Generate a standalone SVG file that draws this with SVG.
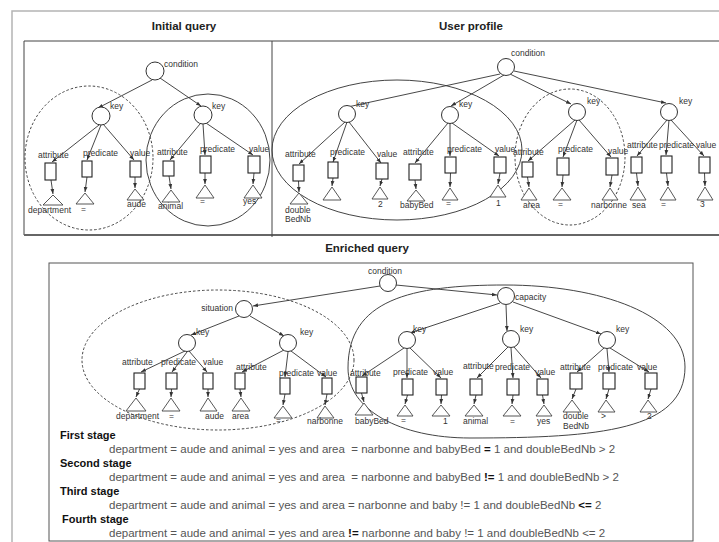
<svg xmlns="http://www.w3.org/2000/svg" width="719" height="542" viewBox="0 0 719 542">
<style>
text{font-family:"Liberation Sans",Arial,sans-serif}
.frame{fill:none;stroke:#b4b4b4;stroke-width:1.5}
.box{fill:none;stroke:#444;stroke-width:1}
.nd{fill:#fff;stroke:#333;stroke-width:1}
.lf{fill:#fff;stroke:#222;stroke-width:1.1}
.tr{fill:#fff;stroke:#444;stroke-width:0.9}
.ell{fill:none;stroke:#444;stroke-width:1}
.dsh{stroke-dasharray:2.5 2}
.t{font-size:8.5px;fill:#333}
.h{font-size:11.5px;font-weight:bold;fill:#222;text-anchor:middle}
.st{font-size:11px;font-weight:bold;fill:#111}
.s{font-size:11.5px;fill:#555;white-space:pre}
.b{font-weight:bold;fill:#111}
#connectors line{stroke:#333;stroke-width:0.9;marker-end:url(#arr)}
</style>
<defs>
<marker id="arr" viewBox="0 0 8 8" refX="8" refY="4" markerWidth="5" markerHeight="5" markerUnits="userSpaceOnUse" orient="auto"><path d="M0,1 L8,4 L0,7 z" fill="#333"/></marker>
</defs>
<rect width="719" height="542" fill="#fff"/>
<rect class="frame" x="12" y="11" width="720" height="545"/>
<path class="box" d="M24,235 V41 H725"/>
<line x1="24" y1="235" x2="719" y2="235" stroke="#666" stroke-width="2"/>
<line x1="272" y1="41" x2="272" y2="237" stroke="#444" stroke-width="1"/>
<rect x="49" y="263" width="644" height="278" fill="none" stroke="#555" stroke-width="1"/>

<text class="h" x="184" y="30">Initial query</text>
<text class="h" x="471" y="30">User profile</text>
<text class="h" x="367" y="252">Enriched query</text>

<g id="groupings">
<ellipse class="ell dsh" cx="89" cy="158" rx="64" ry="72"/>
<ellipse class="ell" cx="208" cy="160" rx="62" ry="66"/>
<ellipse class="ell" cx="397" cy="150" rx="125" ry="70"/>
<ellipse class="ell dsh" cx="570" cy="157" rx="55" ry="68"/>
<ellipse class="ell dsh" cx="218" cy="360" rx="136" ry="70"/>
<path class="ell" d="M348,368 C348,300 410,285 505,285 C600,285 685,315 685,367 C685,430 600,438 470,438 C400,438 348,410 348,368 Z"/>
</g>

<g id="connectors">
<line x1="152" y1="80" x2="98" y2="108"/>
<line x1="160" y1="78" x2="201" y2="106"/>
<line x1="99" y1="125" x2="52" y2="162"/>
<line x1="101" y1="125" x2="87" y2="160"/>
<line x1="103" y1="124" x2="134" y2="160"/>
<line x1="200" y1="124" x2="170" y2="160"/>
<line x1="203" y1="124" x2="205" y2="155"/>
<line x1="206" y1="123" x2="253" y2="155"/>
<line x1="51" y1="180" x2="53" y2="194"/>
<line x1="87" y1="177" x2="85" y2="192"/>
<line x1="135" y1="177" x2="135" y2="188"/>
<line x1="169" y1="176" x2="171" y2="189"/>
<line x1="205" y1="173" x2="205" y2="184"/>
<line x1="254" y1="173" x2="253" y2="184"/>

<line x1="500" y1="74" x2="343" y2="108"/>
<line x1="504" y1="75" x2="451" y2="106"/>
<line x1="510" y1="74" x2="571" y2="104"/>
<line x1="514" y1="71" x2="666" y2="103"/>
<line x1="345" y1="122" x2="299" y2="164"/>
<line x1="347" y1="122" x2="333" y2="162"/>
<line x1="349" y1="122" x2="381" y2="163"/>
<line x1="448" y1="123" x2="415" y2="163"/>
<line x1="450" y1="123" x2="450" y2="156"/>
<line x1="452" y1="123" x2="499" y2="156"/>
<line x1="575" y1="120" x2="528" y2="161"/>
<line x1="577" y1="120" x2="563" y2="157"/>
<line x1="579" y1="120" x2="611" y2="157"/>
<line x1="667" y1="120" x2="637" y2="156"/>
<line x1="669" y1="120" x2="666" y2="155"/>
<line x1="671" y1="120" x2="704" y2="156"/>
<line x1="298.5" y1="181" x2="299" y2="192"/>
<line x1="333" y1="178" x2="332" y2="186"/>
<line x1="382" y1="179" x2="380" y2="186"/>
<line x1="415" y1="180" x2="416" y2="189"/>
<line x1="450.5" y1="173" x2="450" y2="187"/>
<line x1="500" y1="173" x2="498" y2="184"/>
<line x1="527.5" y1="177" x2="529" y2="187"/>
<line x1="563" y1="175" x2="562" y2="187"/>
<line x1="612" y1="175" x2="610" y2="187"/>
<line x1="636.5" y1="173" x2="638" y2="186"/>
<line x1="666.5" y1="173" x2="668" y2="186"/>
<line x1="704.5" y1="173" x2="705" y2="186"/>

<line x1="380" y1="286" x2="253" y2="306"/>
<line x1="396" y1="285" x2="497" y2="295"/>
<line x1="239" y1="316" x2="191" y2="335"/>
<line x1="250" y1="316" x2="284" y2="336"/>
<line x1="500" y1="303" x2="410" y2="333"/>
<line x1="506" y1="305" x2="507" y2="331"/>
<line x1="513" y1="302" x2="601" y2="334"/>
<line x1="185" y1="351" x2="141" y2="372"/>
<line x1="187" y1="352" x2="172" y2="372"/>
<line x1="189" y1="351" x2="207" y2="372"/>
<line x1="284" y1="350" x2="242" y2="372"/>
<line x1="288" y1="352" x2="285" y2="377"/>
<line x1="291" y1="351" x2="326" y2="377"/>
<line x1="404" y1="348" x2="362" y2="376"/>
<line x1="407" y1="349" x2="407" y2="378"/>
<line x1="410" y1="348" x2="441" y2="378"/>
<line x1="508" y1="347" x2="477" y2="378"/>
<line x1="511" y1="348" x2="513" y2="378"/>
<line x1="514" y1="347" x2="541" y2="378"/>
<line x1="604" y1="348" x2="577" y2="372"/>
<line x1="607" y1="349" x2="609" y2="372"/>
<line x1="610" y1="348" x2="649" y2="372"/>
<line x1="139.5" y1="389" x2="136" y2="397"/>
<line x1="171.5" y1="389" x2="171" y2="397"/>
<line x1="208" y1="389" x2="208" y2="397"/>
<line x1="240" y1="389" x2="241" y2="397"/>
<line x1="285" y1="394" x2="283" y2="405"/>
<line x1="327" y1="394" x2="325" y2="405"/>
<line x1="361.5" y1="393" x2="364" y2="402"/>
<line x1="407.5" y1="395" x2="405" y2="404"/>
<line x1="441.5" y1="395" x2="441" y2="404"/>
<line x1="476" y1="395" x2="474" y2="404"/>
<line x1="513" y1="395" x2="512" y2="404"/>
<line x1="542.5" y1="395" x2="544" y2="404"/>
<line x1="576" y1="389" x2="572" y2="399"/>
<line x1="609" y1="389" x2="606" y2="399"/>
<line x1="651" y1="389" x2="648" y2="399"/>
</g>

<!-- Initial query -->
<g id="iq-condition"><circle class="nd" cx="155" cy="71" r="9"/><text class="t" x="164" y="67">condition</text></g>
<g id="iq-key1"><circle class="nd" cx="101" cy="116" r="9"/><text class="t" x="110" y="109">key</text></g>
<g id="iq-key2"><circle class="nd" cx="203" cy="115" r="9"/><text class="t" x="212" y="109">key</text></g>
<g id="iq-attr1"><rect class="lf" x="45" y="163" width="11" height="17"/><text class="t" x="38" y="158">attribute</text></g>
<g id="iq-pred1"><rect class="lf" x="82" y="161" width="10" height="16"/><text class="t" x="83" y="156">predicate</text></g>
<g id="iq-val1"><rect class="lf" x="130" y="161" width="11" height="16"/><text class="t" x="130" y="156">value</text></g>
<g id="iq-attr2"><rect class="lf" x="163" y="161" width="11" height="15"/><text class="t" x="157" y="155">attribute</text></g>
<g id="iq-pred2"><rect class="lf" x="200" y="156" width="11" height="17"/><text class="t" x="200" y="152">predicate</text></g>
<g id="iq-val2"><rect class="lf" x="248" y="156" width="12" height="17"/><text class="t" x="249" y="152">value</text></g>
<g id="iq-department"><polygon class="tr" points="53,195 43,205 63,205"/><text class="t" x="28" y="213">department</text></g>
<g id="iq-eq1"><polygon class="tr" points="85,193 76,204 94,204"/><text class="t" x="81" y="212">=</text></g>
<g id="iq-aude"><polygon class="tr" points="135,189 127,200 144,200"/><text class="t" x="127" y="207">aude</text></g>
<g id="iq-animal"><polygon class="tr" points="171,190 162,202 180,202"/><text class="t" x="158" y="209">animal</text></g>
<g id="iq-eq2"><polygon class="tr" points="205,185 196,198 214,198"/><text class="t" x="200" y="204">=</text></g>
<g id="iq-yes"><polygon class="tr" points="253,185 244,198 262,198"/><text class="t" x="243" y="204">yes</text></g>

<!-- User profile -->
<g id="up-condition"><circle class="nd" cx="506" cy="67" r="8.5"/><text class="t" x="511" y="56">condition</text></g>
<g id="up-key1"><circle class="nd" cx="347" cy="114" r="8.5"/><text class="t" x="356" y="107">key</text></g>
<g id="up-key2"><circle class="nd" cx="450" cy="115" r="8.5"/><text class="t" x="459" y="107">key</text></g>
<g id="up-key3"><circle class="nd" cx="577" cy="112" r="8.5"/><text class="t" x="587" y="104">key</text></g>
<g id="up-key4"><circle class="nd" cx="669" cy="112" r="8.5"/><text class="t" x="679" y="104">key</text></g>
<g id="up-attr1"><rect class="lf" x="293" y="165" width="11" height="16"/><text class="t" x="285" y="157">attribute</text></g>
<g id="up-pred1"><rect class="lf" x="328" y="162" width="10" height="16"/><text class="t" x="330" y="155">predicate</text></g>
<g id="up-val1"><rect class="lf" x="376" y="163" width="12" height="16"/><text class="t" x="377" y="157">value</text></g>
<g id="up-attr2"><rect class="lf" x="409" y="164" width="12" height="16"/><text class="t" x="403" y="155">attribute</text></g>
<g id="up-pred2"><rect class="lf" x="445" y="157" width="11" height="16"/><text class="t" x="447" y="152">predicate</text></g>
<g id="up-val2"><rect class="lf" x="494" y="157" width="12" height="16"/><text class="t" x="495" y="152">value</text></g>
<g id="up-attr3"><rect class="lf" x="522" y="162" width="11" height="15"/><text class="t" x="513" y="155">attribute</text></g>
<g id="up-pred3"><rect class="lf" x="557" y="158" width="12" height="17"/><text class="t" x="558" y="152">predicate</text></g>
<g id="up-val3"><rect class="lf" x="606" y="158" width="12" height="17"/><text class="t" x="608" y="154">value</text></g>
<g id="up-attr4"><rect class="lf" x="631" y="157" width="11" height="16"/><text class="t" x="627" y="148">attribute</text></g>
<g id="up-pred4"><rect class="lf" x="661" y="156" width="11" height="17"/><text class="t" x="659" y="148">predicate</text></g>
<g id="up-val4"><rect class="lf" x="699" y="157" width="11" height="16"/><text class="t" x="696" y="148">value</text></g>
<g id="up-doubleBedNb"><polygon class="tr" points="299,193 290,204 308,204"/><text class="t" x="285" y="213">double</text><text class="t" x="285" y="222">BedNb</text></g>
<g id="up-op1"><polygon class="tr" points="332,187 323,200 341,200"/></g>
<g id="up-2"><polygon class="tr" points="380,187 372,199 388,199"/><text class="t" x="378" y="207">2</text></g>
<g id="up-babyBed"><polygon class="tr" points="416,190 407,201 425,201"/><text class="t" x="400" y="208">babyBed</text></g>
<g id="up-eq2"><polygon class="tr" points="450,188 442,200 458,200"/><text class="t" x="446" y="206">=</text></g>
<g id="up-1"><polygon class="tr" points="498,185 490,197 506,197"/><text class="t" x="496" y="206">1</text></g>
<g id="up-area"><polygon class="tr" points="529,188 521,200 537,200"/><text class="t" x="523" y="208">area</text></g>
<g id="up-eq3"><polygon class="tr" points="562,188 553,200 571,200"/><text class="t" x="558" y="207">=</text></g>
<g id="up-narbonne"><polygon class="tr" points="610,188 602,200 618,200"/><text class="t" x="591" y="208">narbonne</text></g>
<g id="up-sea"><polygon class="tr" points="638,187 630,200 646,200"/><text class="t" x="632" y="208">sea</text></g>
<g id="up-eq4"><polygon class="tr" points="668,187 660,200 676,200"/><text class="t" x="661" y="207">=</text></g>
<g id="up-3"><polygon class="tr" points="705,187 697,200 713,200"/><text class="t" x="700" y="207">3</text></g>

<!-- Enriched query -->
<g id="eq-condition"><circle class="nd" cx="388" cy="283" r="8.5"/><text class="t" x="368" y="274">condition</text></g>
<g id="eq-situation"><circle class="nd" cx="244" cy="309" r="8.5"/><text class="t" x="233" y="311" text-anchor="end">situation</text></g>
<g id="eq-capacity"><circle class="nd" cx="506" cy="296" r="8.5"/><text class="t" x="515" y="300">capacity</text></g>
<g id="eq-keyS1"><circle class="nd" cx="187" cy="343" r="8.5"/><text class="t" x="196" y="335">key</text></g>
<g id="eq-keyS2"><circle class="nd" cx="288" cy="343" r="8.5"/><text class="t" x="300" y="335">key</text></g>
<g id="eq-keyC1"><circle class="nd" cx="407" cy="340" r="8.5"/><text class="t" x="413" y="332">key</text></g>
<g id="eq-keyC2"><circle class="nd" cx="511" cy="339" r="8.5"/><text class="t" x="520" y="332">key</text></g>
<g id="eq-keyC3"><circle class="nd" cx="607" cy="340" r="8.5"/><text class="t" x="616" y="332">key</text></g>
<g id="eq-attr1"><rect class="lf" x="134" y="373" width="11" height="16"/><text class="t" x="122" y="365">attribute</text></g>
<g id="eq-pred1"><rect class="lf" x="166" y="373" width="11" height="16"/><text class="t" x="161" y="365">predicate</text></g>
<g id="eq-val1"><rect class="lf" x="203" y="373" width="10" height="16"/><text class="t" x="203" y="365">value</text></g>
<g id="eq-attr2"><rect class="lf" x="235" y="373" width="10" height="16"/><text class="t" x="236" y="370">attribute</text></g>
<g id="eq-pred2"><rect class="lf" x="280" y="378" width="10" height="16"/><text class="t" x="279" y="376">predicate</text></g>
<g id="eq-val2"><rect class="lf" x="322" y="378" width="10" height="16"/><text class="t" x="317" y="376">value</text></g>
<g id="eq-attr3"><rect class="lf" x="356" y="377" width="11" height="16"/><text class="t" x="350" y="376">attribute</text></g>
<g id="eq-pred3"><rect class="lf" x="402" y="379" width="11" height="16"/><text class="t" x="393" y="375">predicate</text></g>
<g id="eq-val3"><rect class="lf" x="436" y="379" width="11" height="16"/><text class="t" x="433" y="375">value</text></g>
<g id="eq-attr4"><rect class="lf" x="470" y="379" width="12" height="16"/><text class="t" x="463" y="369">attribute</text></g>
<g id="eq-pred4"><rect class="lf" x="507" y="379" width="12" height="16"/><text class="t" x="495" y="370">predicate</text></g>
<g id="eq-val4"><rect class="lf" x="537" y="379" width="11" height="16"/><text class="t" x="535" y="375">value</text></g>
<g id="eq-attr5"><rect class="lf" x="570" y="373" width="12" height="16"/><text class="t" x="560" y="370">attribute</text></g>
<g id="eq-pred5"><rect class="lf" x="603" y="373" width="12" height="16"/><text class="t" x="598" y="370">predicate</text></g>
<g id="eq-val5"><rect class="lf" x="645" y="373" width="12" height="16"/><text class="t" x="637" y="370">value</text></g>
<g id="eq-department"><polygon class="tr" points="136,398 126,411 146,411"/><text class="t" x="116" y="419">department</text></g>
<g id="eq-eq1"><polygon class="tr" points="171,398 162,411 180,411"/><text class="t" x="169" y="419">=</text></g>
<g id="eq-aude"><polygon class="tr" points="208,398 200,411 217,411"/><text class="t" x="205" y="419">aude</text></g>
<g id="eq-area"><polygon class="tr" points="241,398 232,411 250,411"/><text class="t" x="232" y="419">area</text></g>
<g id="eq-eq2"><polygon class="tr" points="283,406 274,418 292,418"/><text class="t" x="276" y="423">=</text></g>
<g id="eq-narbonne"><polygon class="tr" points="325,406 317,418 334,418"/><text class="t" x="307" y="424">narbonne</text></g>
<g id="eq-babyBed"><polygon class="tr" points="364,403 355,415 373,415"/><text class="t" x="355" y="424">babyBed</text></g>
<g id="eq-eq3"><polygon class="tr" points="405,405 397,416 413,416"/><text class="t" x="401" y="423">=</text></g>
<g id="eq-1"><polygon class="tr" points="441,405 432,416 450,416"/><text class="t" x="443" y="424">1</text></g>
<g id="eq-animal"><polygon class="tr" points="474,405 465,416 483,416"/><text class="t" x="463" y="424">animal</text></g>
<g id="eq-eq4"><polygon class="tr" points="512,405 503,416 521,416"/><text class="t" x="510" y="424">=</text></g>
<g id="eq-yes"><polygon class="tr" points="544,405 536,416 552,416"/><text class="t" x="537" y="424">yes</text></g>
<g id="eq-doubleBedNb"><polygon class="tr" points="572,400 563,412 581,412"/><text class="t" x="563" y="419">double</text><text class="t" x="563" y="429">BedNb</text></g>
<g id="eq-gt"><polygon class="tr" points="606,400 598,412 615,412"/><text class="t" x="601" y="419">&gt;</text></g>
<g id="eq-2"><polygon class="tr" points="648,400 640,412 657,412"/><text class="t" x="647" y="419">2</text></g>

<g id="stages">
<text class="st" x="60" y="439">First stage</text>
<text class="s" x="109" y="453">department = aude and animal = yes and area  = narbonne and babyBed <tspan class="b">=</tspan> 1 and doubleBedNb &gt; 2</text>
<text class="st" x="60" y="467">Second stage</text>
<text class="s" x="109" y="481">department = aude and animal = yes and area  = narbonne and babyBed <tspan class="b">!=</tspan> 1 and doubleBedNb &gt; 2</text>
<text class="st" x="60" y="495">Third stage</text>
<text class="s" x="109" y="509">department = aude and animal = yes and area = narbonne and baby != 1 and doubleBedNb <tspan class="b">&lt;=</tspan> 2</text>
<text class="st" x="62" y="523">Fourth stage</text>
<text class="s" x="109" y="537">department = aude and animal = yes and area <tspan class="b">!=</tspan> narbonne and baby != 1 and doubleBedNb &lt;= 2</text>
</g>
</svg>
